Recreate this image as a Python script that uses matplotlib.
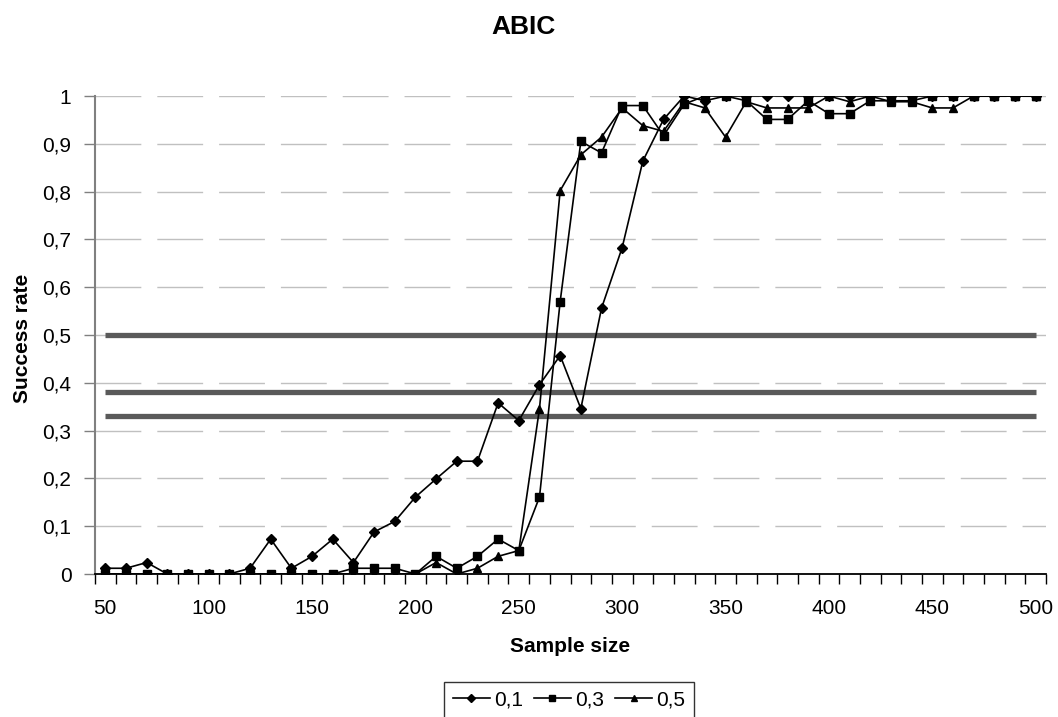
import matplotlib
matplotlib.use("Agg")
import matplotlib.pyplot as plt
import numpy as np
from matplotlib.ticker import FixedLocator, FuncFormatter

plt.rcParams["font.family"] = ["Liberation Sans", "DejaVu Sans"]
plt.rcParams["lines.scale_dashes"] = False

# sample sizes (category axis)
sample_size = list(range(50, 501, 10))

# success rate per series
rate_01 = [
    0.012, 0.012, 0.024, 0, 0, 0, 0, 0.012, 0.073, 0.012,
    0.037, 0.073, 0.024, 0.088, 0.110, 0.161, 0.199, 0.236, 0.236, 0.358,
    0.321, 0.396, 0.457, 0.346, 0.556, 0.683, 0.864, 0.951, 1.0, 0.99,
    1.0, 1.0, 1.0, 1.0, 1.0, 1.0, 1.0, 1.0, 1.0, 1.0,
    1.0, 1.0, 1.0, 1.0, 1.0, 1.0,
]
rate_03 = [
    0, 0, 0, 0, 0, 0, 0, 0, 0, 0,
    0, 0, 0.012, 0.012, 0.012, 0, 0.037, 0.012, 0.037, 0.073,
    0.049, 0.161, 0.570, 0.905, 0.881, 0.98, 0.98, 0.917, 0.983, 1.0,
    1.0, 0.99, 0.951, 0.951, 0.99, 0.963, 0.963, 0.99, 0.99, 0.99,
    1.0, 1.0, 1.0, 1.0, 1.0, 1.0,
]
rate_05 = [
    0, 0, 0, 0, 0, 0, 0, 0, 0, 0,
    0, 0, 0, 0, 0, 0, 0.024, 0, 0.012, 0.037,
    0.049, 0.346, 0.802, 0.877, 0.914, 0.975, 0.938, 0.926, 0.988, 0.975,
    0.914, 0.988, 0.975, 0.975, 0.975, 1.0, 0.988, 1.0, 0.988, 0.988,
    0.975, 0.975, 1.0, 1.0, 1.0, 1.0,
]
series_labels = ["0,1", "0,3", "0,5"]
series_markers = ["D", "s", "^"]

# horizontal reference levels
ref_levels = [0.5, 0.38, 0.33]

y_ticks = [round(0.1 * i, 1) for i in range(11)]
x_label_ticks = list(range(50, 501, 50))


def comma_fmt(v, _pos):
    s = f"{v:.1f}".rstrip("0").rstrip(".")
    return s.replace(".", ",")


fig = plt.figure(figsize=(10.58, 7.17), dpi=100)
ax = fig.add_axes([95 / 1058, 1 - 574 / 717, (1046 - 95) / 1058, (574 - 96) / 717])

x = np.array(sample_size)

for level in ref_levels:
    ax.plot(x, [level] * len(x), color="#5a5a5a", lw=3.8, solid_capstyle="butt", zorder=2)

handles = []
for vals, lab, mk in zip([rate_01, rate_03, rate_05], series_labels, series_markers):
    ms = 5.3 if mk == "D" else (5.3 if mk == "s" else 6.2)
    (h,) = ax.plot(x, vals, color="black", lw=1.2, marker=mk, ms=ms,
                   markerfacecolor="black", markeredgecolor="black", label=lab, zorder=3)
    handles.append(h)

ax.set_xlim(45, 505)
ax.set_ylim(0, 1)

ax.yaxis.set_major_locator(FixedLocator(y_ticks))
ax.yaxis.set_major_formatter(FuncFormatter(comma_fmt))
ax.xaxis.set_major_locator(FixedLocator(x_label_ticks))
ax.xaxis.set_minor_locator(FixedLocator(np.arange(45, 506, 10)))

ax.tick_params(axis="x", which="major", length=0, pad=18, labelsize=15)
ax.tick_params(axis="x", which="minor", length=7, width=1, color="black", direction="out")
ax.tick_params(axis="y", which="major", length=8, width=1, color="#808080", pad=9, labelsize=15)

ax.grid(axis="y", color="#c0c0c0", lw=1.0, linestyle=(0, (33, 11.5)), zorder=0)
ax.set_axisbelow(True)

for side in ["top", "right"]:
    ax.spines[side].set_visible(False)
ax.spines["left"].set_color("#808080")
ax.spines["left"].set_linewidth(1.5)
ax.spines["bottom"].set_color("black")
ax.spines["bottom"].set_linewidth(1.3)
ax.spines["bottom"].set_zorder(4)

fig.text(523 / 1058, 1 - 27 / 717, "ABIC", ha="center", va="center",
         fontsize=19, fontweight="bold")
fig.text(570 / 1058, 1 - 646 / 717, "Sample size", ha="center", va="center",
         fontsize=15, fontweight="bold")
fig.text(23 / 1058, 1 - 338 / 717, "Success rate", ha="center", va="center",
         rotation=90, fontsize=15, fontweight="bold")

leg = fig.legend(handles=handles, loc="upper center", ncol=3,
                 bbox_to_anchor=(569 / 1058, 1 - 682 / 717),
                 fontsize=15, frameon=True, fancybox=False, edgecolor="black",
                 handlelength=1.8, handletextpad=0.2, columnspacing=0.5,
                 borderpad=0.4, borderaxespad=0, markerscale=0.8)
leg.get_frame().set_linewidth(1.0)

fig.savefig("out.png", dpi=100)
